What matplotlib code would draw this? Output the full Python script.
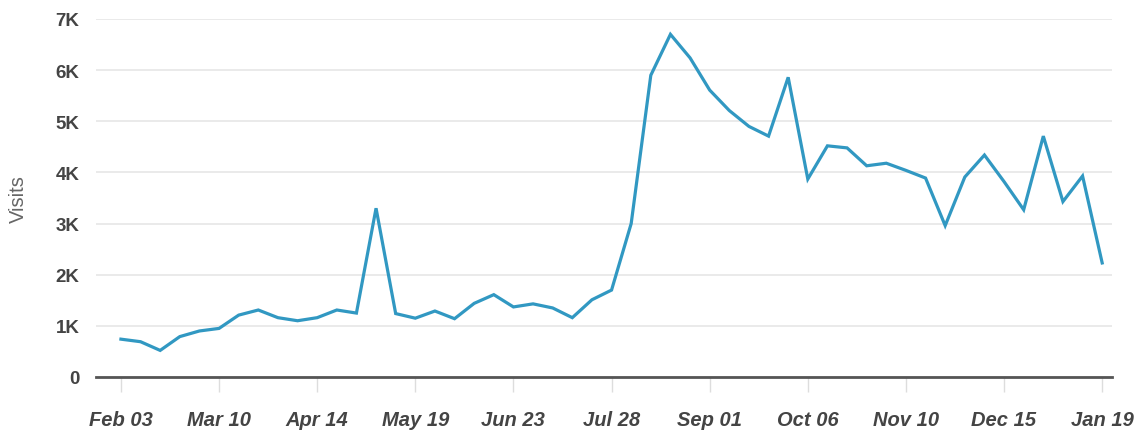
import matplotlib
matplotlib.use("Agg")
import matplotlib.pyplot as plt
from matplotlib.ticker import FuncFormatter
import numpy as np

weeks = list(range(51))
visits = [740, 690, 520, 790, 900, 950, 1210, 1310, 1160, 1100, 1160, 1310, 1250, 3300,
          1240, 1150, 1290, 1140, 1440, 1610, 1370, 1430, 1350, 1160, 1510, 1700, 3000,
          5900, 6700, 6240, 5610, 5210, 4900, 4710, 5860, 3870, 4520, 4480, 4130, 4180,
          4040, 3890, 2960, 3910, 4340, 3820, 3270, 4710, 3430, 3930, 2230]
tick_weeks = [0, 5, 10, 15, 20, 25, 30, 35, 40, 45, 50]
tick_labels = ["Feb 03", "Mar 10", "Apr 14", "May 19", "Jun 23", "Jul 28",
               "Sep 01", "Oct 06", "Nov 10", "Dec 15", "Jan 19"]
y_ticks = [0, 1000, 2000, 3000, 4000, 5000, 6000, 7000]

fig = plt.figure(figsize=(11.36, 4.35), dpi=100)
ax = fig.add_axes([96/1136, 1-378/435, (1112-96)/1136, (378-20)/435])

ax.plot(weeks, visits, color="#3198c2", lw=2.3, solid_joinstyle="miter")

ax.set_xlim(-1.27, 50.5)
ax.set_ylim(0, 7000)
ax.set_yticks(y_ticks)
ax.yaxis.set_major_formatter(FuncFormatter(lambda v, p: "0" if v == 0 else f"{int(v/1000)}K"))
ax.grid(axis="y", color="#e6e6e6", lw=1.2)
ax.set_axisbelow(True)
for s in ["top", "right", "left"]:
    ax.spines[s].set_visible(False)
ax.spines["bottom"].set_color("#555555")
ax.spines["bottom"].set_linewidth(2)

ax.set_xticks(tick_weeks)
ax.set_xticklabels(tick_labels)
ax.tick_params(axis="x", length=11, width=1, color="#dddddd", pad=13,
               labelsize=14.5, labelcolor="#444444")
ax.tick_params(axis="y", length=0, pad=12, labelsize=13.5, labelcolor="#444444")
for lab in ax.get_xticklabels():
    lab.set_fontfamily(["Liberation Sans", "DejaVu Sans"])
    lab.set_fontstyle("italic")
    lab.set_fontweight("bold")
for lab in ax.get_yticklabels():
    lab.set_fontfamily(["Liberation Sans", "DejaVu Sans"])
    lab.set_fontweight("bold")

ax.set_ylabel("Visits", fontsize=14.5, color="#666666", family=["Liberation Sans", "DejaVu Sans"], labelpad=20)

fig.savefig("out.png", dpi=100)
